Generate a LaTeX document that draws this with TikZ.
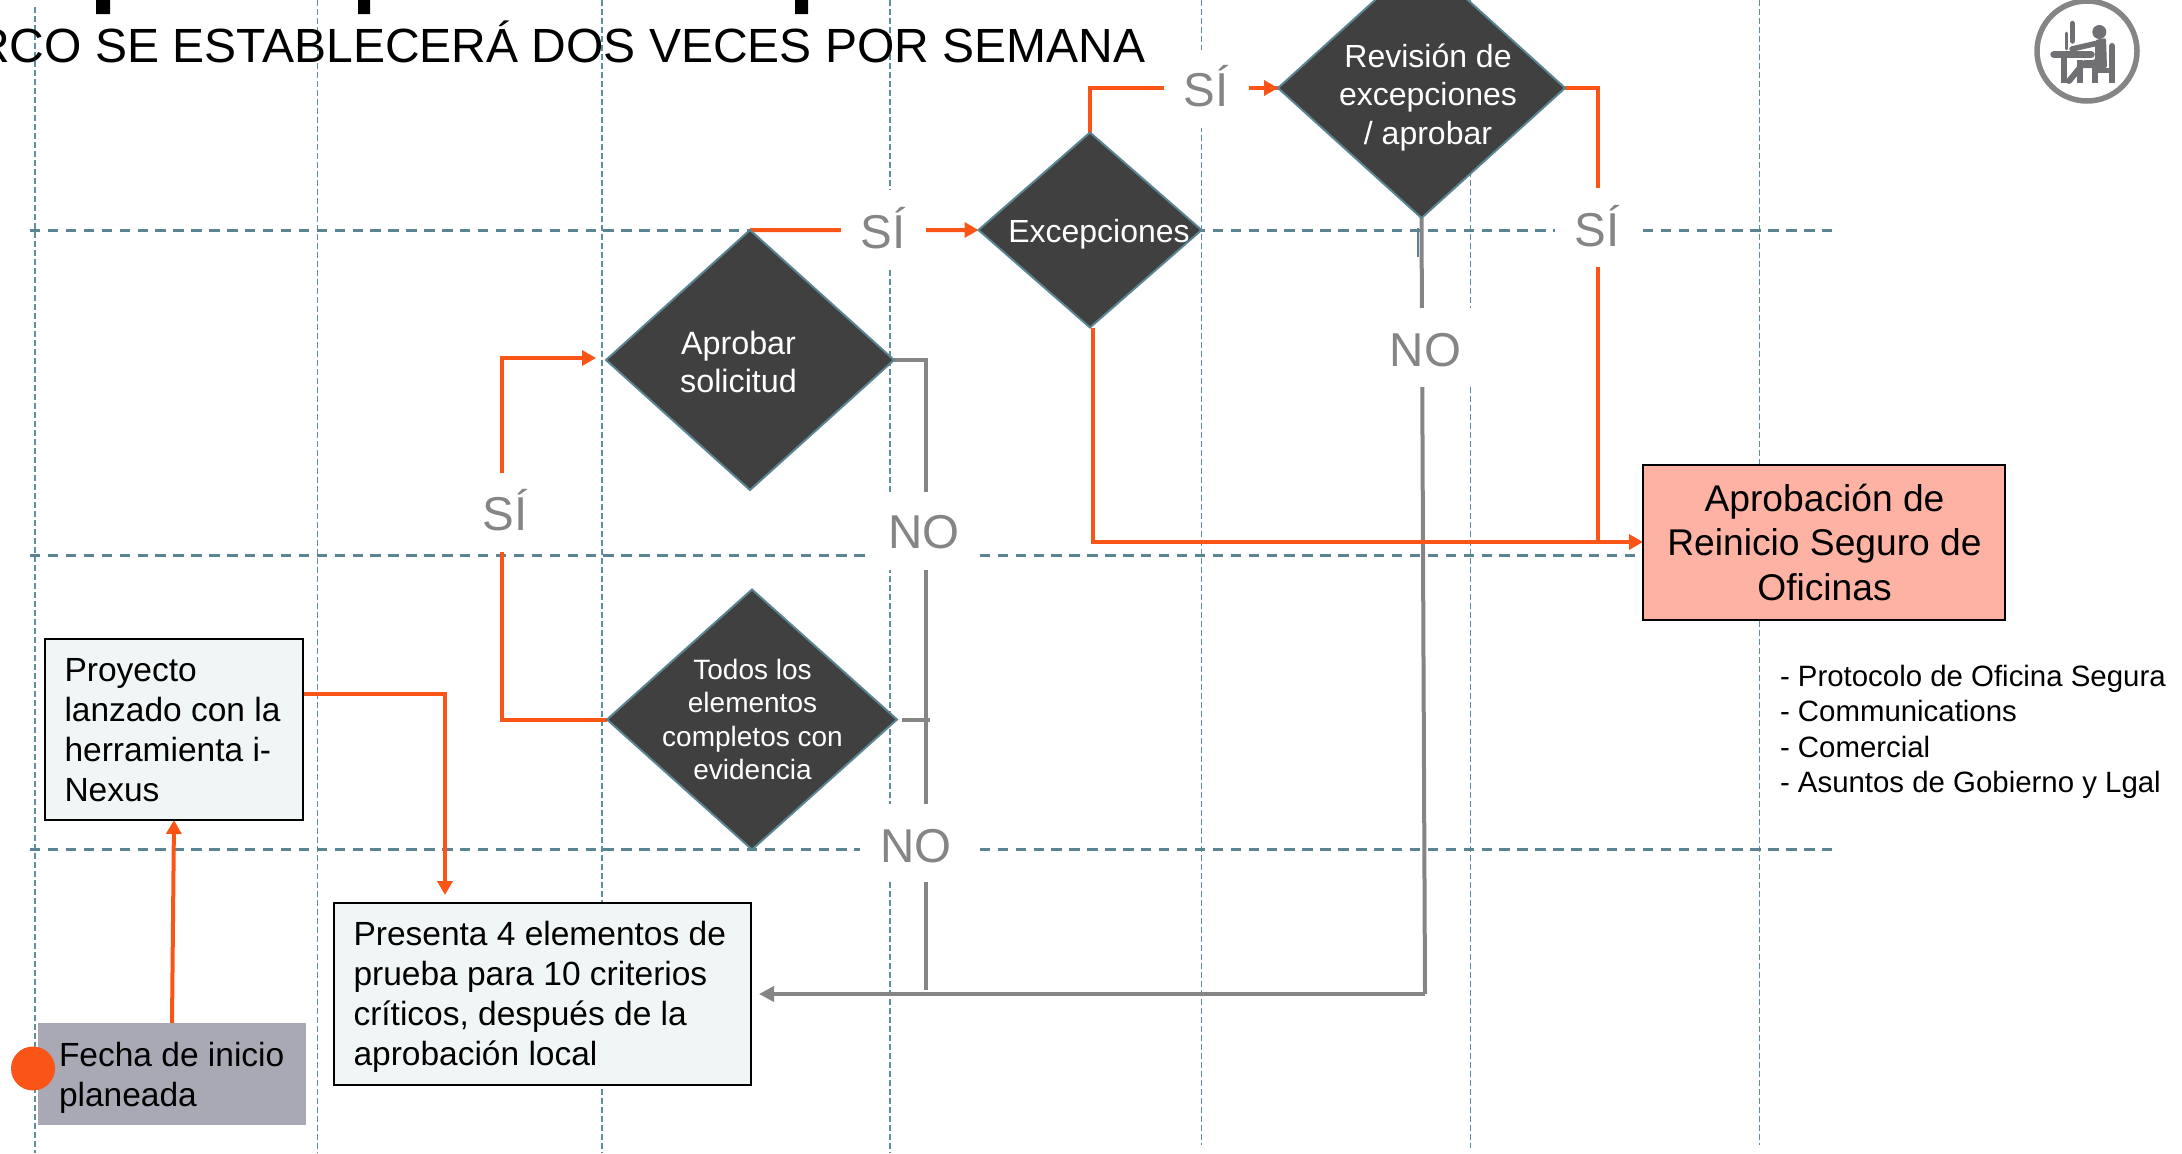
\documentclass[tikz,border=0pt]{standalone}
\usepackage{fontspec}
\setmainfont{Liberation Sans}
\usetikzlibrary{shapes.geometric,arrows.meta,backgrounds}
\definecolor{gridc}{HTML}{5A8492}
\definecolor{gridv}{HTML}{5F8E9C}
\definecolor{orng}{HTML}{FB5417}
\definecolor{gry}{HTML}{858585}
\definecolor{dark}{HTML}{404040}
\definecolor{pale}{HTML}{F0F5F5}
\definecolor{salmon}{HTML}{FDB2A3}
\definecolor{startc}{HTML}{A9A9B6}
\definecolor{iconc}{HTML}{6F6F74}
\newcommand\myfs[2]{\fontsize{#1bp}{#2bp}\selectfont}
% zero-size text blocks: dx from node centre, dy of the first baseline from node centre (down)
\newcommand\txc[3]{\raisebox{-#2bp}[0pt][0pt]{\makebox[0pt][c]{\kern#1bp\kern#1bp\begin{tabular}[t]{@{}c@{}}#3\end{tabular}}}}
\newcommand\txl[3]{\raisebox{-#2bp}[0pt][0pt]{\makebox[0pt][l]{\kern#1bp\begin{tabular}[t]{@{}l@{}}#3\end{tabular}}}}
\tikzset{
  hgrid/.style={draw=gridc,line width=3bp,dash pattern=on 10.4bp off 7.52bp},
  vgrid/.style={draw=gridv,line width=1.6bp,dash pattern=on 6bp off 3bp},
  decision/.style={shape=diamond,draw=gridc,line width=2bp,fill=dark,text=white,inner sep=0pt,outer sep=0pt},
  flowbox/.style={draw=black,line width=2bp,fill=pale,inner sep=0pt,outer sep=0pt,font=\myfs{33.5}{40}},
  gapbox/.style={fill=white,inner sep=0pt,outer sep=0pt},
  lbl/.style={text=gry,font=\myfs{47.5}{50},inner sep=0pt,anchor=base},
  oline/.style={draw=orng,line width=4bp},
  gline/.style={draw=gry,line width=4bp},
  otip/.style={-{Triangle[length=14bp,width=15bp]}},
}
\begin{document}
\begin{tikzpicture}[x=1bp,y=-1bp]
\useasboundingbox (0,0) rectangle (2182,1153);
\clip (0,0) rectangle (2182,1153);
% white gaps behind the branch labels
\node[gapbox,minimum width=85bp,minimum height=80bp] (gs1) at (883.5,230) {};
\node[gapbox,minimum width=85bp,minimum height=78bp] (gs2) at (1206.5,89) {};
\node[gapbox,minimum width=88bp,minimum height=79bp] (gs3) at (1599,227.5) {};
\node[gapbox,minimum width=78bp,minimum height=79bp] (gs4) at (501,512.5) {};
\node[gapbox,minimum width=120bp,minimum height=79bp] (gn1) at (1430,347.5) {};
\node[gapbox,minimum width=115bp,minimum height=78bp] (gn2) at (922.5,531) {};
\node[gapbox,minimum width=112bp,minimum height=78bp] (gn3) at (916,843) {};
\node[lbl] (ts1) at (883,248) {SÍ};
\node[lbl] (ts2) at (1206,106) {SÍ};
\node[lbl] (ts3) at (1597,246) {SÍ};
\node[lbl] (ts4) at (505,530) {SÍ};
\node[lbl] (tn1) at (1425.5,366) {NO};
\node[lbl] (tn2) at (924,548.5) {NO};
\node[lbl] (tn3) at (916,862) {NO};
% title
\node[inner sep=0pt,anchor=base east,font=\myfs{48}{50}] (title) at (1145.5,62) {RCO SE ESTABLECERÁ DOS VECES POR SEMANA};
\fill[black] (96,0) rectangle (110,14) (358,0) rectangle (370,14) (795,0) rectangle (808,14);
% decisions
\node[decision,minimum width=288bp,minimum height=260bp,font=\myfs{32.3}{38}] (apr) at (750,360) {\txc{-11.5}{-5.5}{Aprobar\\solicitud}};
\node[decision,minimum width=223bp,minimum height=195bp,font=\myfs{32}{38}] (exc) at (1090,230) {\txc{9}{12}{Excepciones}};
\node[decision,minimum width=287bp,minimum height=260bp,font=\myfs{32}{38.5}] (rev) at (1421.5,88) {\txc{6.5}{-21}{Revisión de\\excepciones\\/ aprobar}};
\node[decision,minimum width=290bp,minimum height=260bp,font=\myfs{28}{33.5}] (tod) at (752,719.5) {\txc{0.5}{-40.5}{Todos los\\elementos\\completos con\\evidencia}};
% boxes
\node[flowbox,minimum width=258bp,minimum height=181bp] (proy) at (174,729.5) {\txl{-109.5}{-48}{Proyecto\\lanzado con la\\herramienta i-\\Nexus}};
\node[flowbox,minimum width=417bp,minimum height=182bp] (pres) at (542.5,994) {\txl{-189}{-48.5}{Presenta 4 elementos de\\prueba para 10 criterios\\críticos, después de la\\aprobación local}};
\node[draw=none,fill=startc,inner sep=0pt,outer sep=0pt,minimum width=268bp,minimum height=102bp,font=\myfs{33.5}{40}] (fecha) at (172,1074) {\txl{-113}{-7.5}{Fecha de inicio\\planeada}};
\node[circle,fill=orng,inner sep=0pt,outer sep=0pt,minimum size=44bp] (dot) at (33,1068.5) {};
\node[draw=black,line width=2bp,fill=salmon,inner sep=0pt,outer sep=0pt,minimum width=362bp,minimum height=155bp,font=\myfs{37.2}{44.7}] (ok) at (1824,542.5) {\txc{0.5}{-31.5}{Aprobación de\\Reinicio Seguro de\\Oficinas}};
\node[inner sep=0pt,font=\myfs{29.4}{35.3}] (list) at (1780,686) {\txl{0}{0.5}{- Protocolo de Oficina Segura\\- Communications\\- Comercial\\- Asuntos de Gobierno y Lgal}};
% free corner points of connectors
\coordinate (c1) at (445,694);
\coordinate (c2) at (502,719.5);
\coordinate (c3) at (502,358);
\coordinate (c4) at (1093,542);
\coordinate (c5) at (1090,88);
\coordinate (c6) at (1598,88);
\coordinate (c7) at (1598,542);
\coordinate (g1) at (926,360);
\coordinate (g2) at (926,990);
\coordinate (g3) at (902,720);
\coordinate (g4) at (930,720);
\coordinate (g5) at (1425,994);
\begin{pgfonlayer}{background}
  \foreach \xx/\yy/\zz in {35/7/1153,317.5/0/1153,602/0/1153,890/0/1153,1201.5/0/1145,1470.5/0/1148,1759.5/0/1145}
    \draw[vgrid] (\xx,\yy) -- (\xx,\zz);
  \draw[hgrid] (30,230) -- (1834,230);
  \draw[hgrid] (30,555) -- (1637,555);
  \draw[hgrid] (30,849) -- (1834,849);
  \draw[draw=gridc,line width=1.5bp] (1418,228) -- (1418,257);
  % grey NO branches
  \draw[gline] (apr.east) -- (g1) -- (g2);
  \draw[gline] (g3) -- (g4);
  \draw[gline] (rev.south) -- (g5);
  \draw[gline,-{Triangle[length=15bp,width=15bp]},shorten >=8bp] (g5) -- (g5 -| pres.east);
  % orange flow
  \draw[oline,otip] (fecha.north) -- (proy.south);
  \draw[oline,otip,shorten >=8bp] (proy.east |- c1) -- (c1) -- (c1 |- pres.north);
  \draw[oline,otip,shorten >=10bp] (tod.west) -- (c2) -- (c3) -- (c3 -| apr.west);
  \draw[oline,otip] (apr.north) -- (exc.west);
  \draw[oline] (exc.north) -- (c5) -- (c5 -| rev.west);
  \draw[oline,otip] (c5 -| gs2.east) -- (rev.west);
  \draw[oline,otip] (exc.south) ++(3,0) -- (c4) -- (c4 -| ok.west);
  \draw[oline] (rev.east) -- (c6) -- (c7);
\end{pgfonlayer}
% icon
\draw[gry,line width=5.5bp] (2087,51) circle (50bp);
\begin{scope}[iconc,line cap=round]
  \fill (2099.3,32) circle (7bp);
  \draw[line width=5.5bp] (2072.5,23.5) -- (2072.5,41);
  \draw[line width=2.8bp] (2066.8,33) -- (2066.8,49);
  \draw[line width=7.5bp] (2054,54.5) -- (2091,54.5);
  \draw[line width=6bp,line cap=butt] (2064,58) -- (2064,83);
  \draw[line width=5.5bp] (2072,49) -- (2098,43);
  \fill[rounded corners=2bp] (2095,40) -- (2106,38) -- (2107,68) -- (2083,68) -- (2083,60) -- (2095,60) -- cycle;
  \draw[line width=6bp,line cap=butt] (2079.5,60) -- (2079.5,83);
  \draw[line width=6bp] (2083,64) -- (2069,81);
  \draw[line width=6bp,line cap=butt] (2095,66) -- (2095,83);
  \draw[line width=6bp,line cap=butt] (2111.5,66) -- (2111.5,83);
  \draw[line width=6bp] (2112,46) -- (2112,66);
  \draw[line width=5bp,line cap=butt] (2093,70) -- (2114,70);
\end{scope}
\end{tikzpicture}
\end{document}
